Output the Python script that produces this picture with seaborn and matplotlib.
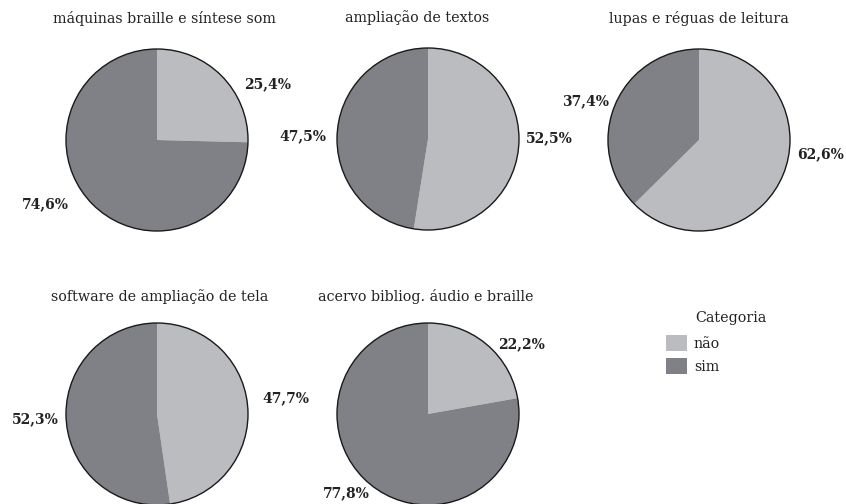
import matplotlib
matplotlib.use("Agg")
import matplotlib.pyplot as plt
import seaborn as sns
import numpy as np
from matplotlib.patches import Circle, Patch

sns.set_theme(style="white")
plt.rcParams['font.family'] = ['DejaVu Serif']

titles = ["máquinas braille e síntese som", "ampliação de textos",
          "lupas e réguas de leitura", "software de ampliação de tela",
          "acervo bibliog. áudio e braille"]
nao = [25.4, 52.5, 62.6, 47.7, 22.2]
sim = [74.6, 47.5, 37.4, 52.3, 77.8]
categories = ["não", "sim"]
colors = ["#bbbcc0", "#808186"]

# label placement (layout): angle in degrees and distance in radii, per pie [não, sim]
label_angle = [(27, -150), (0.5, 178.5), (-6.6, 161), (7.1, -177.6), (36.8, -136.2)]
label_dist = [(1.36, 1.42), (1.33, 1.38), (1.34, 1.32), (1.43, 1.34), (1.28, 1.25)]

W, H = 846, 504
fig = plt.figure(figsize=(W / 100, H / 100), dpi=100)

centers = [(157, 140), (428, 139), (699, 140), (157, 414), (428, 414)]
title_pos = [(164.5, 18), (417.5, 18), (699, 18), (160, 297), (425.5, 297)]
R = 91
L = 1.55

for i, (cx, cy) in enumerate(centers):
    size = 2 * L * R
    ax = fig.add_axes([(cx - size / 2) / W, 1 - (cy + size / 2) / H, size / W, size / H])
    vals = [nao[i], sim[i]]
    ax.pie(vals, colors=colors, startangle=90, counterclock=False,
           wedgeprops=dict(linewidth=0))
    ax.add_patch(Circle((0, 0), 1, fill=False, edgecolor="#1a1a1a", linewidth=1.0))
    for v, a, d in zip(vals, label_angle[i], label_dist[i]):
        th = np.deg2rad(a)
        ax.text(d * np.cos(th), d * np.sin(th), f"{v:.1f}%".replace(".", ","),
                ha="center", va="center", fontsize=10, fontweight="bold",
                color="#222222")
    ax.set_xlim(-L, L)
    ax.set_ylim(-L, L)
    ax.set_aspect("equal")
    ax.axis("off")
    tx, ty = title_pos[i]
    fig.text(tx / W, 1 - ty / H, titles[i], ha="center", va="center",
             fontsize=10.3, color="#222222")

handles = [Patch(facecolor=c, edgecolor="none") for c in colors]
leg = fig.legend(handles, categories, loc="upper left",
                 bbox_to_anchor=(653 / W, 1 - 322 / H), frameon=False,
                 fontsize=10.3, handlelength=1.45, handleheight=1.4,
                 handletextpad=0.5, labelspacing=0.45)
for t in leg.get_texts():
    t.set_color("#222222")
fig.text(695 / W, 1 - 318 / H, "Categoria", ha="left", va="center",
         fontsize=10.3, color="#222222")

fig.savefig("out.png", dpi=100)
